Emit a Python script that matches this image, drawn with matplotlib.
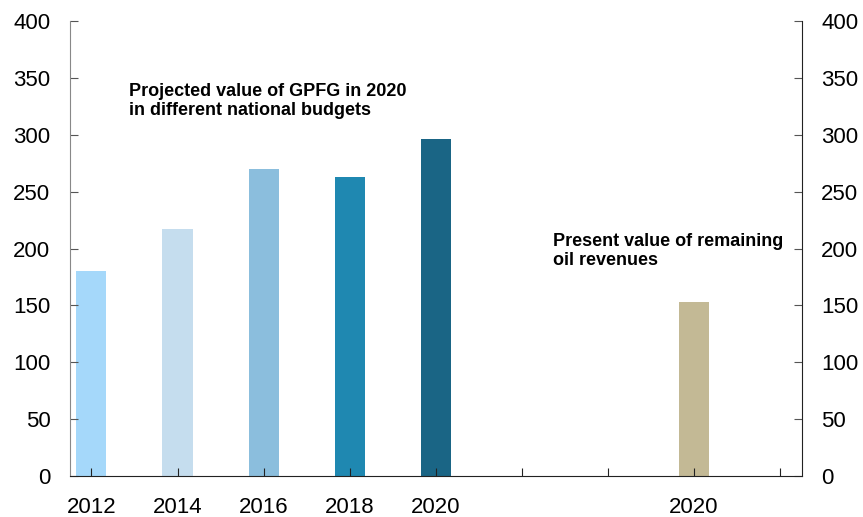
import matplotlib.pyplot as plt
import numpy as np

plt.rcParams['font.family'] = ['Liberation Sans', 'DejaVu Sans']

# categories on the x axis (two empty slots before and one after the last bar)
labels = ['2012', '2014', '2016', '2018', '2020', '', '', '2020', '']
values = [180, 217, 270, 263, 296, 0, 0, 153, 0]
colors = ['#a5d8fa', '#c5ddee', '#8bbedd', '#1f88b1', '#1a6585', 'none', 'none', '#c3b995', 'none']

fig = plt.figure(figsize=(8.63, 5.17), dpi=100)
ax = fig.add_axes([0.081, 0.0793, 0.848, 0.8797])

x = np.arange(len(labels))
ax.bar(x, values, width=0.35, color=colors)

ax.set_xlim(-0.25, 8.25)
ax.set_ylim(0, 400)
ax.set_yticks(np.arange(0, 401, 50))
ax.set_xticks(x)
ax.set_xticklabels(labels)

ax.spines['top'].set_visible(False)
ax.spines['left'].set_color('#888888')
ax.spines['right'].set_color('#222222')
ax.spines['bottom'].set_color('#222222')

ax.tick_params(axis='y', direction='in', length=6, labelsize=16, pad=14,
               right=True, labelright=True, color='#555555')
ax.tick_params(axis='x', direction='in', length=6, labelsize=16, pad=15, color='#222222')

ax.text(0.44, 346, 'Projected value of GPFG in 2020\nin different national budgets',
        fontsize=13, fontweight='bold', va='top', ha='left', linespacing=1.15)
ax.text(5.36, 214, 'Present value of remaining\noil revenues',
        fontsize=13, fontweight='bold', va='top', ha='left', linespacing=1.15)

fig.savefig('out.png', dpi=100)
